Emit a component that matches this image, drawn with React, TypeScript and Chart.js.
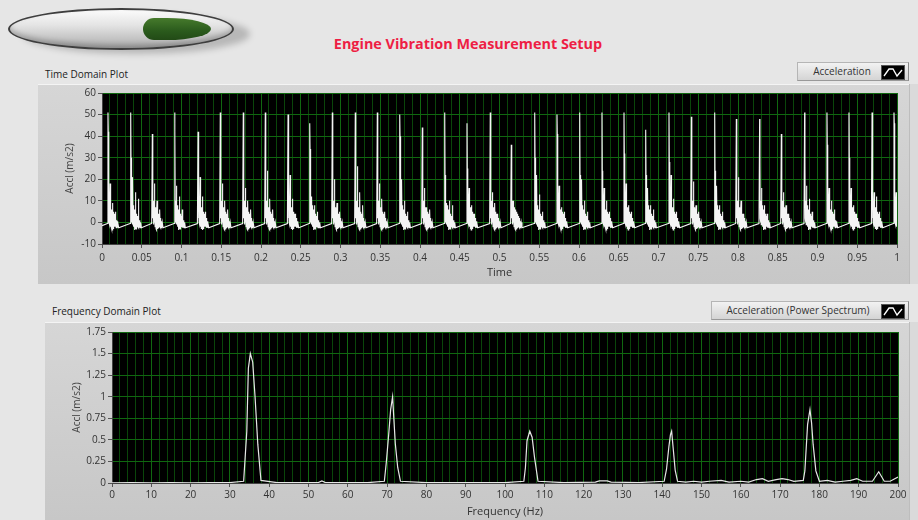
import React, { useEffect, useRef } from 'react';
import { Chart, registerables } from 'chart.js';
Chart.register(...registerables);

// ---------- Time domain data ----------
const burstTimes = [0.0075, 0.0361, 0.0633, 0.0914, 0.1208, 0.1488, 0.1777, 0.2054, 0.2340, 0.2613, 0.2897, 0.3186, 0.3463, 0.3745, 0.4029, 0.4311, 0.4591, 0.4884, 0.5148, 0.5443, 0.5723, 0.6009, 0.6289, 0.6566, 0.6839, 0.7132, 0.7413, 0.7707, 0.7979, 0.8272, 0.8545, 0.8838, 0.9119, 0.9396, 0.9686, 0.9962];
const burstPeaks = [51, 51, 41, 51, 42, 51, 51, 51, 50, 46, 51, 51, 51, 50, 44, 51, 46, 51, 36, 51, 50, 51, 51, 51, 43, 51, 49, 51, 48, 48, 41, 51, 51, 51, 51, 51];
const burstEcho = [42, 30, 25, 42, 25, 30, 25, 26, 29, 34, 28, 25, 20, 40, 23, 22, 25, 25, 22, 30, 41, 22, 24, 32, 22, 28, 31, 24, 31, 28, 25, 28, 36, 30, 47, 46];
const burstSub1 = [18, 21, 18, 17, 21, 18, 16, 24, 22, 12, 20, 26, 18, 20, 16, 9, 16, 14, 10, 22, 17, 20, 16, 18, 16, 22, 19, 17, 21, 16, 14, 17, 16, 16, 14, 14];
const burstSub2 = [9, 14, 10, 12, 12, 10, 10, 11, 11, 8, 9, 14, 11, 10, 7, 10, 8, 9, 6, 13, 7, 10, 10, 8, 8, 11, 8, 8, 10, 8, 8, 11, 10, 8, 12, 5];
const burstSub3 = [5, 11, 6, 6, 5, 6, 6, 6, 4, 5, 5, 8, 5, 5, 6, 8, 4, 4, 3, 5, 5, 5, 5, 5, 6, 5, 5, 5, 4, 4, 4, 5, 6, 4, 5, 3];
// typical ring-down after each impact (offset in ms, value or slot name)
const ringOffsetsMs = [0.4, 0.8, 1.1, 1.4, 1.7, 2.0, 2.3, 2.6, 2.9, 3.2, 3.5, 3.8, 4.1, 4.4, 4.7, 5.0, 5.3, 5.6, 5.9, 6.2, 6.5, 6.8, 7.1, 7.4, 7.7, 8.0, 8.3, 8.6, 8.9, 9.2, 9.5, 9.8, 10.1, 10.4, 10.8, 11.2, 11.6, 12.0, 12.5, 13.5];
const ringValues: (number | string)[] = ['E', 2, 10, 0, 9, -1, 8, 'S1', 0, 8, -2, 7, -2, 6, -3, 6, -3.5, 5, 'S2', -3, 5, -3, 4, -2.5, 4, -2, 3, -2, 3, -2, 'S3', -2, 2, -2.5, 1, -2.5, 0.5, -2.5, 0, -2.5];
const startLevel = -1.5;
const preBurstLevel = -0.5;

const timeTickLabels = ['0', '0.05', '0.1', '0.15', '0.2', '0.25', '0.3', '0.35', '0.4', '0.45', '0.5', '0.55', '0.6', '0.65', '0.7', '0.75', '0.8', '0.85', '0.9', '0.95', '1'];
const accTickLabels = ['-10', '0', '10', '20', '30', '40', '50', '60'];

// ---------- Frequency domain data ----------
const spectrumHz = [0, 5, 10, 15, 20, 25, 30, 33.5, 34.3, 34.7, 35.2, 35.8, 36.4, 37.1, 37.9, 42, 48, 52.5, 53.4, 54.3, 60, 65, 69.3, 69.8, 70.4, 70.9, 71.4, 71.7, 72.1, 72.7, 73.4, 80, 90, 100, 104.8, 105.2, 105.6, 106.3, 106.9, 107.5, 108.4, 115, 123, 124, 126, 127, 134, 140.5, 141.1, 141.7, 142.1, 142.4, 142.8, 143.3, 143.9, 146, 148, 150, 152, 155, 157, 160, 162, 164, 165.5, 167, 169, 170.5, 172, 173.5, 175.9, 176.3, 176.7, 177.0, 177.6, 178.0, 178.4, 179.1, 180, 182, 184, 186, 188, 189.5, 191, 193.5, 195.1, 196.5, 198, 200];
const spectrumAmp = [0.003, 0.004, 0.003, 0.004, 0.003, 0.004, 0.005, 0.02, 0.6, 1.33, 1.5, 1.4, 1.0, 0.45, 0.03, 0.004, 0.004, 0.005, 0.025, 0.005, 0.004, 0.004, 0.02, 0.24, 0.56, 0.85, 1.0, 0.76, 0.45, 0.18, 0.02, 0.004, 0.004, 0.004, 0.02, 0.18, 0.49, 0.6, 0.53, 0.3, 0.02, 0.004, 0.01, 0.025, 0.025, 0.01, 0.005, 0.02, 0.16, 0.42, 0.56, 0.6, 0.4, 0.15, 0.02, 0.01, 0.02, 0.01, 0.02, 0.03, 0.01, 0.02, 0.01, 0.04, 0.05, 0.02, 0.04, 0.05, 0.04, 0.02, 0.03, 0.14, 0.45, 0.68, 0.85, 0.7, 0.45, 0.14, 0.02, 0.03, 0.01, 0.02, 0.03, 0.05, 0.02, 0.02, 0.13, 0.02, 0.02, 0.07];
const freqTickLabels = ['0', '10', '20', '30', '40', '50', '60', '70', '80', '90', '100', '110', '120', '130', '140', '150', '160', '170', '180', '190', '200'];
const psTickLabels = ['0', '0.25', '0.5', '0.75', '1', '1.25', '1.5', '1.75'];

const MAJOR = 'rgb(16,104,16)';
const MINOR = 'rgb(10,70,10)';
const FONT = '"Open Sans", "Noto Sans", sans-serif';
const MINOR_DIV = 5;

function buildTimeSeries() {
  const pts: { x: number; y: number }[] = [{ x: 0, y: startLevel }];
  burstTimes.forEach((t0, i) => {
    const slots: Record<string, number> = { E: burstEcho[i], S1: burstSub1[i], S2: burstSub2[i], S3: burstSub3[i] };
    pts.push({ x: t0 - 0.0008, y: preBurstLevel });
    pts.push({ x: t0, y: burstPeaks[i] });
    ringOffsetsMs.forEach((ms, k) => {
      const v = ringValues[k];
      pts.push({ x: t0 + ms / 1000, y: typeof v === 'string' ? slots[v] : v });
    });
  });
  return pts;
}

function gridValues(labels: string[]) {
  const out: number[] = [];
  const major = labels.map(Number);
  for (let i = 0; i < major.length; i++) {
    out.push(major[i]);
    if (i < major.length - 1) {
      const step = (major[i + 1] - major[i]) / MINOR_DIV;
      for (let j = 1; j < MINOR_DIV; j++) out.push(major[i] + step * j);
    }
  }
  return out;
}

const plotBg = {
  id: 'plotBg',
  beforeDraw(chart: any) {
    const { ctx, chartArea: a } = chart;
    ctx.save();
    ctx.fillStyle = '#000';
    ctx.fillRect(a.left, a.top, a.width, a.height);
    ctx.restore();
  },
};

const tickFont = { family: FONT, size: 10 };
const titleFont = { family: FONT, size: 10 };

function makeXScale(labels: string[], height: number, pad: number, title: string, titlePad: number) {
  const values = gridValues(labels);
  return {
    type: 'linear',
    min: Number(labels[0]),
    max: Number(labels[labels.length - 1]),
    afterBuildTicks: (s: any) => { s.ticks = values.map((v) => ({ value: v })); },
    afterFit: (s: any) => { s.height = height; },
    grid: {
      color: (c: any) => (c.index % MINOR_DIV === 0 ? MAJOR : MINOR),
      tickColor: (c: any) => (c.index % MINOR_DIV === 0 ? '#555' : 'rgba(0,0,0,0)'),
      tickLength: 4,
      lineWidth: 1,
    },
    border: { color: '#444' },
    ticks: {
      autoSkip: false, maxRotation: 0, minRotation: 0, padding: pad, color: '#333', font: tickFont,
      callback: (_v: any, i: number) => (i % MINOR_DIV === 0 ? labels[i / MINOR_DIV] : ''),
    },
    title: { display: true, text: title, color: '#333', font: { family: FONT, size: 11 }, padding: { top: 0, bottom: titlePad } },
  };
}

function makeYScale(labels: string[], width: number, title: string, titlePadTop: number) {
  const values = labels.map(Number);
  return {
    type: 'linear',
    min: values[0],
    max: values[values.length - 1],
    afterBuildTicks: (s: any) => { s.ticks = values.map((v) => ({ value: v })); },
    afterFit: (s: any) => { s.width = width; },
    grid: { color: MAJOR, tickColor: '#555', tickLength: 4, lineWidth: 1 },
    border: { color: '#444' },
    ticks: { padding: 2, color: '#333', font: tickFont, callback: (_v: any, i: number) => labels[i] },
    title: { display: true, text: title, color: '#444', font: titleFont, padding: { top: titlePadTop, bottom: 0 } },
  };
}

function TimeChart() {
  const ref = useRef<HTMLCanvasElement>(null);
  useEffect(() => {
    const chart = new Chart(ref.current as HTMLCanvasElement, {
      type: 'line',
      data: {
        datasets: [{
          data: buildTimeSeries(),
          borderColor: '#f4f4f4',
          borderWidth: 1.1,
          pointRadius: 0,
          tension: 0,
          fill: false,
        }],
      },
      options: {
        animation: false,
        responsive: false,
        events: [],
        layout: { padding: { left: 0, right: 15, top: 9, bottom: 0 } },
        plugins: { legend: { display: false }, tooltip: { enabled: false } },
        scales: {
          x: makeXScale(timeTickLabels, 39, 4, 'Time', 4) as any,
          y: makeYScale(accTickLabels, 64, 'Accl (m/s2)', 26) as any,
        },
      },
      plugins: [plotBg],
    });
    return () => chart.destroy();
  }, []);
  return <canvas ref={ref} width={874} height={199} style={{ position: 'absolute', left: 38, top: 84, width: 874, height: 199 }} />;
}

function FreqChart() {
  const ref = useRef<HTMLCanvasElement>(null);
  useEffect(() => {
    const chart = new Chart(ref.current as HTMLCanvasElement, {
      type: 'line',
      data: {
        datasets: [{
          data: spectrumHz.map((x, i) => ({ x, y: spectrumAmp[i] })),
          borderColor: '#e6e6e6',
          borderWidth: 1.2,
          pointRadius: 0,
          tension: 0,
          fill: false,
        }],
      },
      options: {
        animation: false,
        responsive: false,
        events: [],
        layout: { padding: { left: 0, right: 14, top: 10, bottom: 0 } },
        plugins: { legend: { display: false }, tooltip: { enabled: false } },
        scales: {
          x: makeXScale(freqTickLabels, 35, 2, 'Frequency (Hz)', 0) as any,
          y: makeYScale(psTickLabels, 67, 'Accl (m/s2)', 26) as any,
        },
      },
      plugins: [plotBg],
    });
    return () => chart.destroy();
  }, []);
  return <canvas ref={ref} width={867} height={196} style={{ position: 'absolute', left: 45, top: 322, width: 867, height: 196 }} />;
}

function Swatch() {
  return (
    <div style={{ position: 'absolute', right: 3, top: 2, width: 24, height: 15, background: '#000', border: '1px solid #555', boxSizing: 'border-box' }}>
      <svg width="22" height="13" style={{ display: 'block' }}>
        <polyline points="2,10 7,3 11,3 15,10 20,4" fill="none" stroke="#fff" strokeWidth="1.3" />
      </svg>
    </div>
  );
}

function LegendBox({ left, top, width, text, textWidth }: any) {
  return (
    <div style={{ position: 'absolute', left, top, width, height: 19, background: 'linear-gradient(#f2f2f2, #d4d4d4)', border: '1px solid #b5b5b5', borderRightColor: '#888', borderBottomColor: '#999', boxSizing: 'border-box' }}>
      <div style={{ position: 'absolute', left: 0, width: textWidth, top: 0, lineHeight: '17px', textAlign: 'center', fontSize: 10, color: '#333' }}>{text}</div>
      <Swatch />
    </div>
  );
}

export default function App() {
  return (
    <div style={{ position: 'fixed', left: 0, top: 0, width: 918, height: 520, background: '#e6e6e6', overflow: 'hidden', fontFamily: FONT }}>
      {/* toggle switch */}
      <div style={{ position: 'absolute', left: 22, top: 14, width: 228, height: 40, borderRadius: '50%', background: 'rgba(0,0,0,0.2)', filter: 'blur(3px)' }} />
      <div style={{ position: 'absolute', left: 8, top: 8, width: 226, height: 42, borderRadius: '50%', border: '2px solid #3e3e3e', boxSizing: 'border-box', background: 'linear-gradient(#fbfbfb 0%, #e4e4e4 40%, #c4c4c4 75%, #a8a8a8 100%)', boxShadow: 'inset 0 -3px 5px rgba(0,0,0,0.2)' }} />
      <div style={{ position: 'absolute', left: 143, top: 18, width: 68, height: 22, borderRadius: '11px 65% 65% 11px / 11px 50% 50% 11px', background: 'linear-gradient(#467a2c, #2a5a1c 60%, #224a16)' }} />

      <div style={{ position: 'absolute', left: 268, top: 34, width: 400, textAlign: 'center', fontSize: 14.4, fontWeight: 700, lineHeight: '19px', color: '#ee1e44' }}>Engine Vibration Measurement Setup</div>

      <div style={{ position: 'absolute', left: 45, top: 68, fontSize: 10, lineHeight: '13px', color: '#222' }}>Time Domain Plot</div>
      <LegendBox left={797} top={62} width={112} text="Acceleration" textWidth={88} />
      <div style={{ position: 'absolute', left: 38, top: 84, width: 872, height: 200, background: 'linear-gradient(#d6d6d6, #c7c7c7)', borderTop: '1px solid #f4f4f4', boxSizing: 'border-box' }} />
      <div style={{ position: 'absolute', left: 909, top: 84, width: 9, height: 200, background: '#dadada', borderLeft: '1px solid #bdbdbd', boxSizing: 'border-box' }} />
      <TimeChart />

      <div style={{ position: 'absolute', left: 52, top: 305, fontSize: 10, lineHeight: '13px', color: '#222' }}>Frequency Domain Plot</div>
      <LegendBox left={711} top={301} width={198} text="Acceleration (Power Spectrum)" textWidth={172} />
      <div style={{ position: 'absolute', left: 45, top: 322, width: 865, height: 198, background: 'linear-gradient(#d6d6d6, #c7c7c7)', borderTop: '1px solid #f4f4f4', boxSizing: 'border-box' }} />
      <div style={{ position: 'absolute', left: 909, top: 322, width: 9, height: 198, background: '#dadada', borderLeft: '1px solid #bdbdbd', boxSizing: 'border-box' }} />
      <FreqChart />
    </div>
  );
}
